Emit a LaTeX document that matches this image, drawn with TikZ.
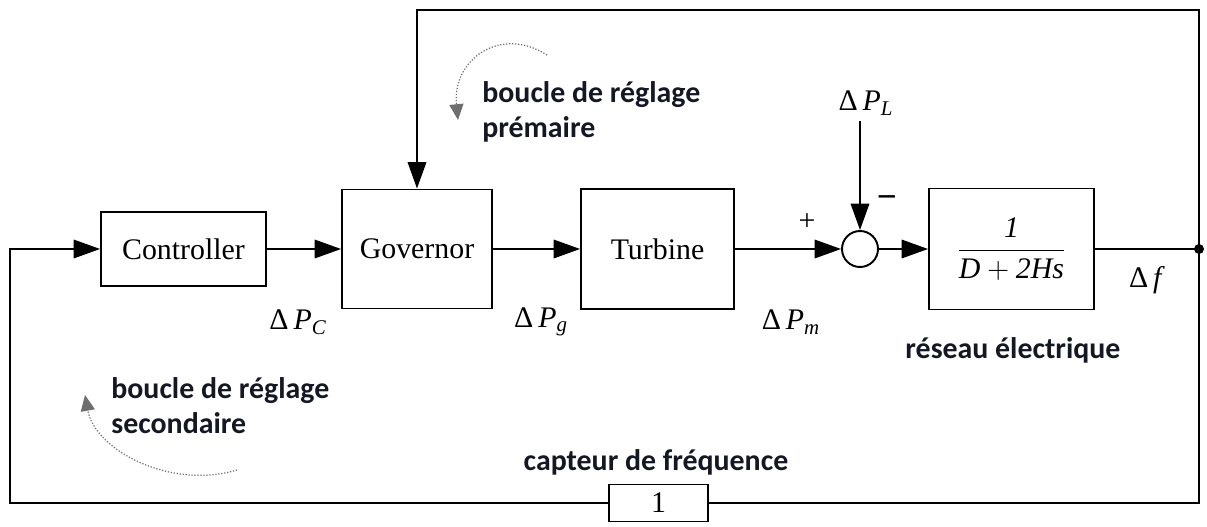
\documentclass[tikz,border=0pt]{standalone}
\usepackage{fontspec}
\usepackage{amsmath}
\setmainfont{Liberation Serif}
\newfontfamily\annfont{Carlito}
\usetikzlibrary{arrows.meta,positioning,calc}
\definecolor{loopgray}{HTML}{6E6E6E}
\definecolor{annot}{HTML}{141824}

\begin{document}
\begin{tikzpicture}[x=0.02cm,y=-0.02cm,font=\fontsize{17}{20}\selectfont,
  block/.style={draw,line width=1.1pt,inner sep=0pt},
  sig/.style={-{Triangle[length=15pt,width=10.5pt]},line width=1.1pt},
  wire/.style={line width=1.1pt},
  loopline/.style={-{Triangle[length=9pt,width=8pt]},loopgray,densely dotted,line width=0.7pt},
  note/.style={font=\annfont\bfseries\fontsize{17}{20}\selectfont,annot,align=left,inner sep=0pt}]
\useasboundingbox (0,0) rectangle (1207,527);
% blocks
\node[block,minimum width=3.3cm,minimum height=1.48cm] (ctrl) at (183.5,249) {Controller};
\node[block,minimum width=3.0cm,minimum height=2.38cm] (gov) at (417,249) {Governor};
\node[block,minimum width=3.06cm,minimum height=2.4cm] (turb) at (657.5,249) {Turbine};
\node[circle,draw,line width=1.1pt,minimum size=0.72cm,inner sep=0pt] (sum) at (860,249) {};
\node[block,minimum width=3.3cm,minimum height=2.42cm] (grid) at (1011.5,249) {$\dfrac{\mathit{1}}{\mathit{D}+\mathit{2Hs}}$};
\node[block,minimum width=1.98cm,minimum height=0.74cm] (sensor) at (658.5,503) {1};
\coordinate (fb) at (1199,249);
\coordinate (topR) at (1199,10);
\coordinate (inL) at (10,249);
% signals
\foreach \x/\s/\n in {298/C/dPC,541/g/dPg,791/m/dPm}{
  \node (\n) at (\x,322) {Δ\,\textit{P}$_{\mathit{\s}}$};
}
\node (dPL) at (866,103) {Δ\,\textit{P}$_{\mathit{L}}$};
\node (df) at (1147,280) {Δ\,\textit{f}};
\node (plus) at (807,222) {+};
\node (minus) at (887,202) {\fontsize{20}{22}\selectfont\textbf{−}};
% connectors
\draw[sig] (ctrl) -- (gov);
\draw[sig] (gov) -- (turb);
\draw[sig] (turb) -- (sum);
\draw[sig] (sum) -- (grid);
\draw[sig] (dPL.south -| sum.north) -- (sum.north);
\draw[wire] (grid) -- (fb);
\draw[sig] (fb) -- (topR) -| (gov);
\draw[wire] (fb) |- (sensor);
\draw[sig] (sensor) -| (inL) -- (ctrl);
\fill (fb) circle (0.1cm);
% annotations
\node[note,anchor=west] (prim) at (482,112) {boucle de réglage\\prémaire};
\node[note,anchor=west] (sec) at (111,406) {boucle de réglage\\secondaire};
\node[note] (net) at (1013,350) {réseau électrique};
\node[note] (cap) at (656,462) {capteur de fréquence};
\draw[loopline] (547,55) .. controls (500,25) and (452,60) .. (458,120);
\draw[loopline] (237,470) .. controls (170,490) and (95,450) .. (85,395);
\end{tikzpicture}
\end{document}
